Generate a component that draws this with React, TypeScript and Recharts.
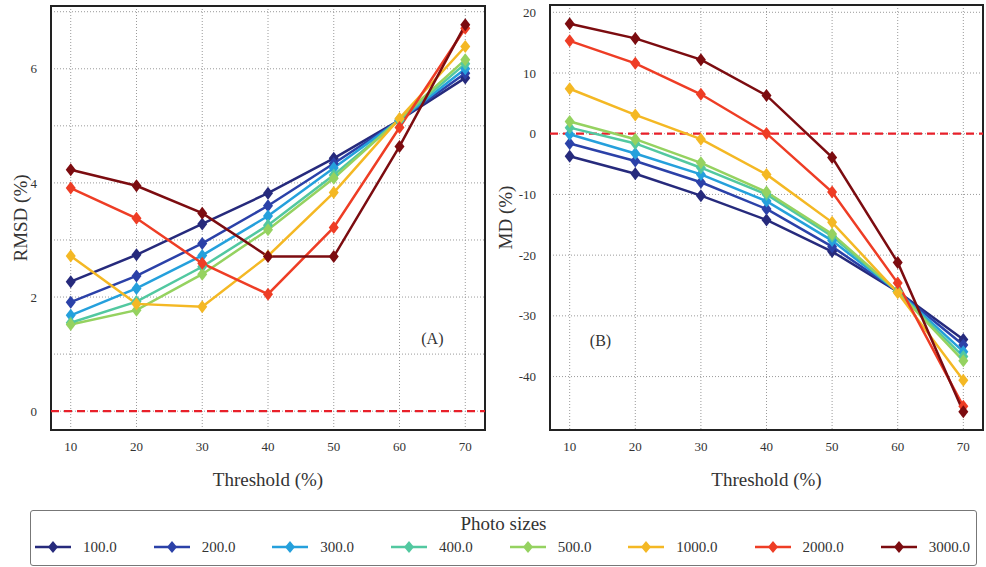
import React from 'react'
import {
  LineChart, Line, XAxis, YAxis, CartesianGrid, ReferenceLine, ReferenceArea, ReferenceDot,
} from 'recharts'

const thresholds = [10, 20, 30, 40, 50, 60, 70]
const sizes = ['100.0', '200.0', '300.0', '400.0', '500.0', '1000.0', '2000.0', '3000.0']
const colors = ['#262a7c', '#2b41a8', '#25a0dc', '#52c8a0', '#95d260', '#f4b824', '#ee3d25', '#7c0c10']

// RMSD (%) per photo size, one value per threshold
const rmsd100 = [2.27, 2.74, 3.28, 3.82, 4.43, 5.1, 5.84]
const rmsd200 = [1.91, 2.37, 2.94, 3.6, 4.34, 5.1, 5.92]
const rmsd300 = [1.68, 2.15, 2.73, 3.42, 4.26, 5.1, 6.0]
const rmsd400 = [1.55, 1.92, 2.53, 3.26, 4.14, 5.1, 6.09]
const rmsd500 = [1.52, 1.77, 2.4, 3.18, 4.08, 5.12, 6.16]
const rmsd1000 = [2.72, 1.88, 1.83, 2.72, 3.83, 5.13, 6.39]
const rmsd2000 = [3.91, 3.38, 2.59, 2.05, 3.22, 4.97, 6.71]
const rmsd3000 = [4.23, 3.95, 3.47, 2.71, 2.71, 4.64, 6.77]

// MD (%) per photo size
const md100 = [-3.7, -6.6, -10.2, -14.2, -19.4, -26.0, -33.9]
const md200 = [-1.6, -4.5, -8.0, -12.4, -18.6, -26.0, -34.8]
const md300 = [-0.1, -3.25, -6.7, -11.1, -17.6, -26.0, -35.9]
const md400 = [1.0, -1.6, -5.6, -10.0, -16.9, -26.0, -36.7]
const md500 = [2.0, -0.9, -4.8, -9.6, -16.5, -26.0, -37.4]
const md1000 = [7.4, 3.1, -0.9, -6.7, -14.6, -26.2, -40.6]
const md2000 = [15.3, 11.6, 6.5, 0.05, -9.6, -24.6, -44.9]
const md3000 = [18.1, 15.7, 12.2, 6.3, -3.9, -21.2, -45.8]

const rmsdSeries = [rmsd100, rmsd200, rmsd300, rmsd400, rmsd500, rmsd1000, rmsd2000, rmsd3000]
const mdSeries = [md100, md200, md300, md400, md500, md1000, md2000, md3000]

const rmsdTicks = [0, 1, 2, 3, 4, 5, 6, 7]
const mdTicks = [-40, -30, -20, -10, 0, 10, 20]
const xDomain = [7, 73]
const rmsdDomain = [-0.33, 7.1]
const mdDomain = [-48.8, 21.2]

const FONT = 'Liberation Serif, DejaVu Serif, serif'
const TEXT = '#333'

function buildRows(series: number[][]) {
  return thresholds.map((t, i) => {
    const row: any = { t }
    series.forEach((s, j) => { row['s' + j] = s[i] })
    return row
  })
}

const rmsdRows = buildRows(rmsdSeries)
const mdRows = buildRows(mdSeries)

const Diamond = (props: any) => {
  const { cx, cy, fill, index } = props
  if (cx == null || cy == null) return <g key={index} />
  return (
    <polygon
      key={index}
      points={`${cx},${cy - 6.5} ${cx + 5},${cy} ${cx},${cy + 6.5} ${cx - 5},${cy}`}
      fill={fill}
    />
  )
}

function Panel({ rows, ticks, domain, ylabel, tag, tagPos, width, margin, yWidth, labelDx, tickFmt }: any) {
  return (
    <LineChart width={width} height={500} data={rows} margin={margin} style={{ fontFamily: FONT }}>
      <CartesianGrid stroke="#9a9a9a" strokeDasharray="1 2" />
      <XAxis
        type="number" dataKey="t" domain={xDomain} ticks={thresholds} allowDataOverflow
        height={60} axisLine={false} tickLine={false} tickMargin={6}
        tick={{ fontSize: 13, fill: TEXT, fontFamily: FONT }}
        label={{ value: 'Threshold (%)', position: 'insideBottom', offset: 4, fontSize: 19, fill: TEXT, fontFamily: FONT }}
      />
      <YAxis
        type="number" domain={domain} ticks={ticks} allowDataOverflow interval={0}
        width={yWidth} axisLine={false} tickLine={false} tickMargin={8}
        tickFormatter={tickFmt}
        tick={{ fontSize: 13, fill: TEXT, fontFamily: FONT }}
        label={{ value: ylabel, angle: -90, position: 'center', dx: labelDx, fontSize: 19, fill: TEXT, fontFamily: FONT }}
      />
      <ReferenceArea x1={xDomain[0]} x2={xDomain[1]} y1={domain[0]} y2={domain[1]} fill="none" stroke="#222" strokeWidth={2} />
      <ReferenceLine y={0} stroke="#e8202a" strokeWidth={2.2} strokeDasharray="8 5" />
      <ReferenceDot
        x={tagPos[0]} y={tagPos[1]} r={0} fill="none" stroke="none"
        label={{ value: tag, position: 'center', fontSize: 16, fill: TEXT, fontFamily: FONT }}
      />
      {sizes.map((s, j) => (
        <Line
          key={s}
          dataKey={'s' + j}
          name={s}
          stroke={colors[j]}
          fill={colors[j]}
          strokeWidth={2.5}
          dot={<Diamond fill={colors[j]} />}
          activeDot={false}
          isAnimationActive={false}
        />
      ))}
    </LineChart>
  )
}

function LegendBox() {
  return (
    <div style={{
      position: 'absolute', left: 30, top: 510, width: 947, height: 56, boxSizing: 'border-box',
      border: '1px solid #777', borderRadius: 3, fontFamily: FONT, color: TEXT, background: '#fff',
    }}>
      <div style={{ textAlign: 'center', fontSize: 19, marginTop: 2, lineHeight: '22px' }}>Photo sizes</div>
      <div style={{ display: 'flex', justifyContent: 'space-between', padding: '0 6px 0 4px', marginTop: 4 }}>
        {sizes.map((s, j) => (
          <div key={s} style={{ display: 'flex', alignItems: 'center' }}>
            <svg width={36} height={16}>
              <line x1={0} y1={8} x2={36} y2={8} stroke={colors[j]} strokeWidth={2.5} />
              <polygon points="18,2 23,8 18,14 13,8" fill={colors[j]} />
            </svg>
            <span style={{ fontSize: 15, marginLeft: 12, lineHeight: '16px' }}>{s}</span>
          </div>
        ))}
      </div>
    </div>
  )
}

export default function App() {
  return (
    <div style={{ position: 'absolute', left: 0, top: 0, width: 986, height: 567, background: '#fff', overflow: 'hidden', fontFamily: FONT }}>
      <div style={{ position: 'absolute', left: 0, top: 0 }}>
        <Panel
          rows={rmsdRows} ticks={rmsdTicks} domain={rmsdDomain} ylabel="RMSD (%)" tag="(A)" tagPos={[65, 1.28]}
          width={490} margin={{ top: 6, right: 5, bottom: 10, left: 0 }} yWidth={51} labelDx={-5}
          tickFmt={(v: number) => (v % 2 === 0 ? String(v) : '')}
        />
      </div>
      <div style={{ position: 'absolute', left: 490, top: 0 }}>
        <Panel
          rows={mdRows} ticks={mdTicks} domain={mdDomain} ylabel="MD (%)" tag="(B)" tagPos={[14.7, -34.1]}
          width={496} margin={{ top: 5, right: 3, bottom: 10, left: 0 }} yWidth={60} labelDx={-15}
          tickFmt={(v: number) => String(v)}
        />
      </div>
      <LegendBox />
    </div>
  )
}
